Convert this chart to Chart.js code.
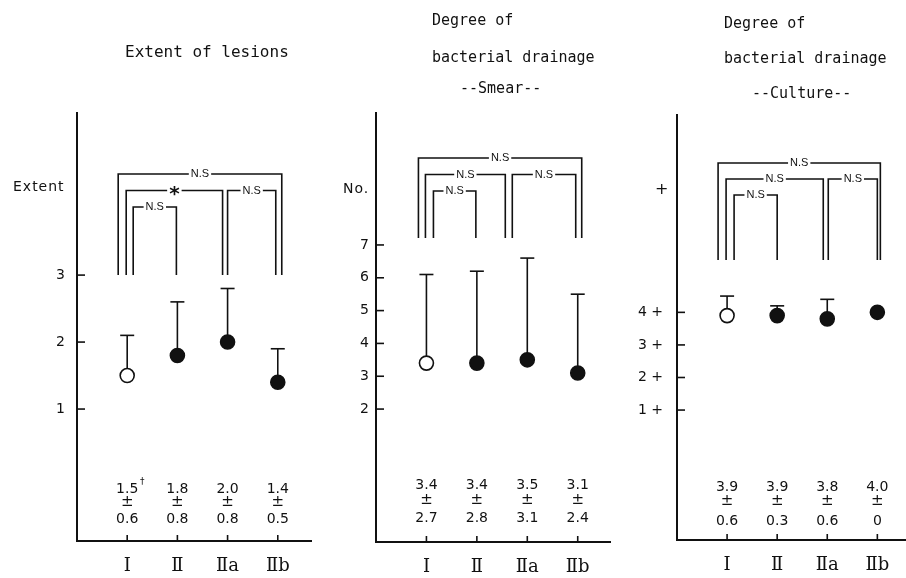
<!DOCTYPE html>
<html>
<head>
<meta charset="utf-8">
<script src="https://cdn.jsdelivr.net/npm/chart.js@4"></script>
<style>
  body { margin: 0; background: #fff; }
  #wrap { position: relative; width: 906px; height: 578px; overflow: hidden; }
  canvas { position: absolute; top: 0; }
  .t { position: absolute; font-family: "DejaVu Sans Mono", monospace; font-size: 15px; color: #111; line-height: 18px; white-space: nowrap; }
  .ax { position: absolute; font-family: "DejaVu Sans", sans-serif; font-size: 14px; color: #111; letter-spacing: 1px; line-height: 18px; }
</style>
</head>
<body>
<div id="wrap">
  <canvas id="c1" width="320" height="578" style="left:0"></canvas>
  <canvas id="c2" width="300" height="578" style="left:320px"></canvas>
  <canvas id="c3" width="295" height="578" style="left:620px"></canvas>

  <div class="t" style="left:125px;top:43px;font-size:16px">Extent of lesions</div>
  <div class="t" style="left:432px;top:11px">Degree of</div>
  <div class="t" style="left:432px;top:48px">bacterial drainage</div>
  <div class="t" style="left:460px;top:79px">--Smear--</div>
  <div class="t" style="left:724px;top:14px">Degree of</div>
  <div class="t" style="left:724px;top:49px">bacterial drainage</div>
  <div class="t" style="left:752px;top:84px">--Culture--</div>

  <div class="ax" style="left:13px;top:177px">Extent</div>
  <div class="ax" style="left:343px;top:179px">No.</div>
  <div class="ax" style="left:655px;top:180px;font-size:16px">+</div>
</div>
<script>
const groups = ['Ⅰ', 'Ⅱ', 'Ⅱa', 'Ⅱb'];

const lesionMean = [1.5, 1.8, 2.0, 1.4];
const lesionSD = [0.6, 0.8, 0.8, 0.5];
const smearMean = [3.4, 3.4, 3.5, 3.1];
const smearSD = [2.7, 2.8, 3.1, 2.4];
const cultureMean = [3.9, 3.9, 3.8, 4.0];
const cultureSD = [0.6, 0.3, 0.6, 0];

const lesionTicks = [1, 2, 3];
const smearTicks = [2, 3, 4, 5, 6, 7];
const cultureTicks = [1, 2, 3, 4];

// pairwise tests: [group a, group b, result]
const lesionTests = [[0, 3, 'N.S'], [0, 2, '*'], [2, 3, 'N.S'], [0, 1, 'N.S']];
const smearTests = [[0, 3, 'N.S'], [0, 2, 'N.S'], [2, 3, 'N.S'], [0, 1, 'N.S']];
const cultureTests = [[0, 3, 'N.S'], [0, 2, 'N.S'], [2, 3, 'N.S'], [0, 1, 'N.S']];

const INK = '#111';
const NUM_FONT = '14px "DejaVu Sans", sans-serif';
const NS_FONT = '11px "Liberation Sans", Arial, sans-serif';

function fmt(v) {
    return v === 0 ? '0' : v.toFixed(1);
}

const extras = {
    id: 'extras',
    beforeDatasetsDraw(chart, args, o) {
        const ctx = chart.ctx;
        const area = chart.chartArea;
        const x = chart.scales.x;
        const y = chart.scales.y;
        ctx.save();
        ctx.strokeStyle = INK;
        ctx.fillStyle = INK;
        ctx.lineWidth = 1.6;

        function line(x1, y1, x2, y2) {
            ctx.beginPath();
            ctx.moveTo(x1, y1);
            ctx.lineTo(x2, y2);
            ctx.stroke();
        }

        // inward tick marks
        y.ticks.forEach(t => {
            const py = y.getPixelForValue(t.value);
            line(area.left, py, area.left + 8, py);
        });
        x.ticks.forEach(t => {
            const px = x.getPixelForValue(t.value);
            line(px, area.bottom, px, area.bottom - 6);
        });

        // error bars (mean + SD)
        o.mean.forEach((m, i) => {
            const px = x.getPixelForValue(i + 1);
            const top = y.getPixelForValue(m + o.sd[i]);
            line(px, y.getPixelForValue(m), px, top);
            line(px - 7, top, px + 7, top);
        });

        // significance brackets
        ctx.textAlign = 'center';
        ctx.textBaseline = 'middle';
        o.tests.forEach((t, k) => {
            const star = t[2] === '*';
            ctx.font = star ? 'bold 20px "DejaVu Sans", sans-serif' : NS_FONT;
            const x1 = x.getPixelForValue(t[0] + 1) + o.offsets[k][0];
            const x2 = x.getPixelForValue(t[1] + 1) + o.offsets[k][1];
            const yy = area.top + o.bracketTop + o.levels[k] * o.step;
            const yb = area.top + o.legBottom;
            const mid = (x1 + x2) / 2;
            const w = ctx.measureText(t[2]).width / 2 + 2;
            ctx.beginPath();
            ctx.moveTo(x1, yb);
            ctx.lineTo(x1, yy);
            ctx.lineTo(mid - w, yy);
            ctx.moveTo(mid + w, yy);
            ctx.lineTo(x2, yy);
            ctx.lineTo(x2, yb);
            ctx.stroke();
            ctx.fillText(t[2], mid, star ? yy + 4 : yy);
        });

        // mean ± SD figures
        o.mean.forEach((m, i) => {
            const px = x.getPixelForValue(i + 1);
            ctx.font = NUM_FONT;
            ctx.fillText(fmt(m), px, area.bottom + o.textY[0]);
            ctx.font = '15px "DejaVu Sans", sans-serif';
            ctx.fillText('±', px, area.bottom + o.textY[1]);
            ctx.font = NUM_FONT;
            ctx.fillText(fmt(o.sd[i]), px, area.bottom + o.textY[2]);
            if (o.dagger && i === 0) {
                ctx.font = '9px "DejaVu Sans", sans-serif';
                ctx.fillText('†', px + 15, area.bottom + o.textY[0] - 7);
            }
        });
        ctx.restore();
    }
};

function makePanel(id, mean, sd, yTicks, tests, L) {
    return new Chart(document.getElementById(id), {
        type: 'scatter',
        data: {
            datasets: [{
                data: mean.map((m, i) => ({ x: i + 1, y: m })),
                pointRadius: 7,
                pointHoverRadius: 7,
                pointBorderWidth: 1.6,
                pointBorderColor: INK,
                pointBackgroundColor: mean.map((m, i) => i === 0 ? '#fff' : INK)
            }]
        },
        options: {
            responsive: false,
            animation: false,
            layout: { padding: { left: 0, top: L.top, right: L.right, bottom: 0 } },
            plugins: {
                legend: { display: false },
                tooltip: { enabled: false },
                extras: {
                    mean: mean, sd: sd, tests: tests,
                    levels: [0, 1, 1, 2],
                    offsets: L.offsets,
                    bracketTop: L.bracketTop, step: L.step, legBottom: L.legBottom,
                    textY: L.textY, dagger: L.dagger
                }
            },
            scales: {
                x: {
                    type: 'linear',
                    min: 0,
                    max: L.xMax,
                    afterBuildTicks: s => { s.ticks = groups.map((g, i) => ({ value: i + 1 })); },
                    afterFit: s => { s.height = L.xHeight; },
                    grid: { display: true, drawOnChartArea: false, drawTicks: false },
                    border: { display: true, color: INK, width: 2 },
                    ticks: {
                        autoSkip: false,
                        maxRotation: 0,
                        padding: 15,
                        color: INK,
                        font: { family: '"DejaVu Serif", "Noto Sans CJK JP", serif', size: 18 },
                        callback: v => groups[v - 1]
                    }
                },
                y: {
                    min: L.yMin,
                    max: L.yMax,
                    afterBuildTicks: s => { s.ticks = yTicks.map(v => ({ value: v })); },
                    afterFit: s => { s.width = L.yWidth; },
                    grid: { display: true, drawOnChartArea: false, drawTicks: false },
                    border: { display: true, color: INK, width: 2 },
                    ticks: {
                        padding: L.tickPad,
                        color: INK,
                        font: { family: '"DejaVu Sans", sans-serif', size: 14 },
                        callback: v => L.suffix ? v + ' ' + L.suffix : String(v)
                    }
                }
            }
        },
        plugins: [extras]
    });
}

makePanel('c1', lesionMean, lesionSD, lesionTicks, lesionTests, {
    top: 113, right: 8, xHeight: 37, yWidth: 77, tickPad: 12,
    yMin: -0.97, yMax: 5.42, xMax: 4.67,
    bracketTop: 61, step: 16.5, legBottom: 162,
    offsets: [[-9, 4], [-1, -5], [0, -2], [6, -1]],
    textY: [-52, -39, -22], dagger: true
});

makePanel('c2', smearMean, smearSD, smearTicks, smearTests, {
    top: 113, right: 10, xHeight: 36, yWidth: 56, tickPad: 7,
    yMin: -2.05, yMax: 11.02, xMax: 4.64,
    bracketTop: 45, step: 16.5, legBottom: 125,
    offsets: [[-8, 4], [-1, -22], [-15, -2], [7, -1]],
    textY: [-57, -42, -24], dagger: false
});

makePanel('c3', cultureMean, cultureSD, cultureTicks, cultureTests, {
    top: 115, right: 0, xHeight: 38, yWidth: 57, tickPad: 14,
    yMin: -2.99, yMax: 10.06, xMax: 4.58, suffix: '+',
    bracketTop: 48, step: 16, legBottom: 145,
    offsets: [[-9, 3], [-1, -4], [1, 0], [7, 0]],
    textY: [-53, -39, -19], dagger: false
});
</script>
</body>
</html>
